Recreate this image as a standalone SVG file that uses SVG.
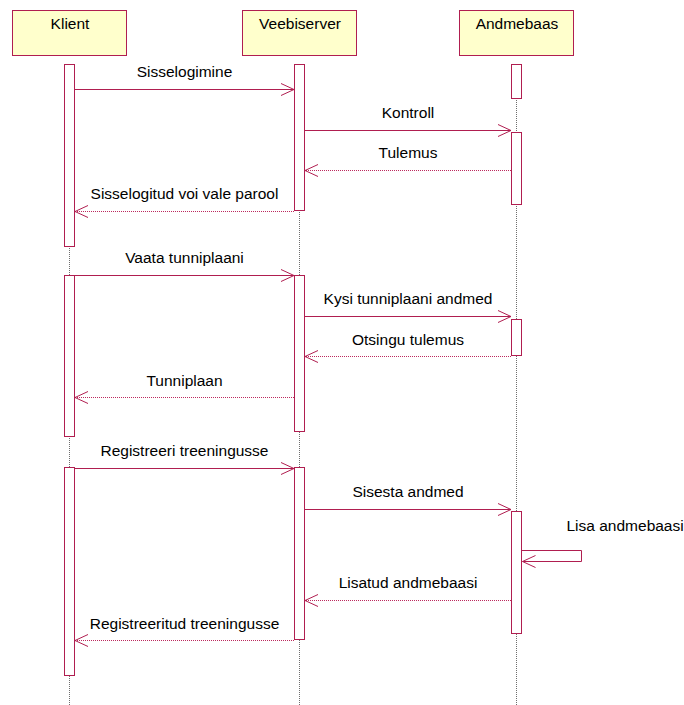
<svg xmlns="http://www.w3.org/2000/svg" width="684" height="705" viewBox="0 0 684 705">
  <style>
    .obj { fill: #FFFFCC; stroke: #B01E50; stroke-width: 1; }
    .act { fill: #FFFFFF; stroke: #B01E50; stroke-width: 1; }
    .life { stroke: #6E6E6E; stroke-width: 1; stroke-dasharray: 1 1; fill: none; }
    .call { stroke: #B01E50; stroke-width: 1; fill: none; marker-end: url(#open); }
    .ret { stroke: #BC2A5E; stroke-width: 1; stroke-dasharray: 1 1; fill: none; marker-end: url(#open); }
    .self { stroke: #B01E50; stroke-width: 1; fill: none; marker-end: url(#open); }
    text { font-family: "Liberation Sans", Arial, sans-serif; font-size: 15.5px; fill: #000; }
    .c { text-anchor: middle; }
  </style>
  <defs>
    <marker id="open" viewBox="-14 -7 15 14" refX="0" refY="0" markerWidth="15" markerHeight="14" markerUnits="userSpaceOnUse" orient="auto">
      <path d="M-13,-6 L0,0 L-13,6" fill="none" stroke="#B01E50" stroke-width="1"/>
    </marker>
  </defs>

  <rect width="684" height="705" fill="#FFFFFF"/>

  <!-- lifelines -->
  <g id="lifelines">
    <line class="life" x1="69.5" y1="64" x2="69.5" y2="705"/>
    <line class="life" x1="299.5" y1="64" x2="299.5" y2="705"/>
    <line class="life" x1="516.5" y1="64" x2="516.5" y2="705"/>
  </g>

  <!-- participants -->
  <g id="klient">
    <rect class="obj" x="12.5" y="10.5" width="114" height="45"/>
    <text class="c" x="70" y="29">Klient</text>
    <rect class="act" x="64.5" y="64.5" width="10" height="182"/>
    <rect class="act" x="64.5" y="275.5" width="10" height="161"/>
    <rect class="act" x="64.5" y="467.5" width="10" height="208"/>
  </g>
  <g id="veebiserver">
    <rect class="obj" x="242.5" y="10.5" width="114" height="45"/>
    <text class="c" x="300" y="29">Veebiserver</text>
    <rect class="act" x="294.5" y="64.5" width="10" height="146"/>
    <rect class="act" x="294.5" y="275.5" width="10" height="156"/>
    <rect class="act" x="294.5" y="467.5" width="10" height="172"/>
  </g>
  <g id="andmebaas">
    <rect class="obj" x="459.5" y="10.5" width="114" height="45"/>
    <text class="c" x="517" y="29">Andmebaas</text>
    <rect class="act" x="511.5" y="64.5" width="10" height="34"/>
    <rect class="act" x="511.5" y="132.5" width="10" height="72"/>
    <rect class="act" x="511.5" y="319.5" width="10" height="36"/>
    <rect class="act" x="511.5" y="511.5" width="10" height="122"/>
  </g>

  <!-- messages -->
  <g id="connectors">
    <line class="call" x1="75" y1="89.5" x2="294" y2="89.5"/>
    <line class="call" x1="305" y1="130.5" x2="511" y2="130.5"/>
    <line class="ret" x1="511" y1="170.5" x2="305" y2="170.5"/>
    <line class="ret" x1="294" y1="211.5" x2="75" y2="211.5"/>

    <line class="call" x1="75" y1="275.5" x2="294" y2="275.5"/>
    <line class="call" x1="305" y1="316.5" x2="511" y2="316.5"/>
    <line class="ret" x1="511" y1="356.5" x2="305" y2="356.5"/>
    <line class="ret" x1="294" y1="397.5" x2="75" y2="397.5"/>

    <line class="call" x1="75" y1="468.5" x2="294" y2="468.5"/>
    <line class="call" x1="305" y1="509.5" x2="511" y2="509.5"/>
    <polyline class="self" points="522,550.5 581.5,550.5 581.5,561.5 522.5,561.5"/>
    <line class="ret" x1="511" y1="600.5" x2="305" y2="600.5"/>
    <line class="ret" x1="294" y1="640.5" x2="75" y2="640.5"/>
  </g>

  <!-- message labels -->
  <g id="labels">
    <text class="c" x="184.5" y="77">Sisselogimine</text>
    <text class="c" x="408" y="118">Kontroll</text>
    <text class="c" x="408" y="158">Tulemus</text>
    <text class="c" x="184.5" y="199">Sisselogitud voi vale parool</text>
    <text class="c" x="184.5" y="263">Vaata tunniplaani</text>
    <text class="c" x="408" y="304">Kysi tunniplaani andmed</text>
    <text class="c" x="408" y="345">Otsingu tulemus</text>
    <text class="c" x="184.5" y="385.5">Tunniplaan</text>
    <text class="c" x="184.5" y="456">Registreeri treeningusse</text>
    <text class="c" x="408" y="497">Sisesta andmed</text>
    <text x="566.5" y="531">Lisa andmebaasi</text>
    <text class="c" x="408" y="587.5">Lisatud andmebaasi</text>
    <text class="c" x="184.5" y="628.5">Registreeritud treeningusse</text>
  </g>
</svg>
